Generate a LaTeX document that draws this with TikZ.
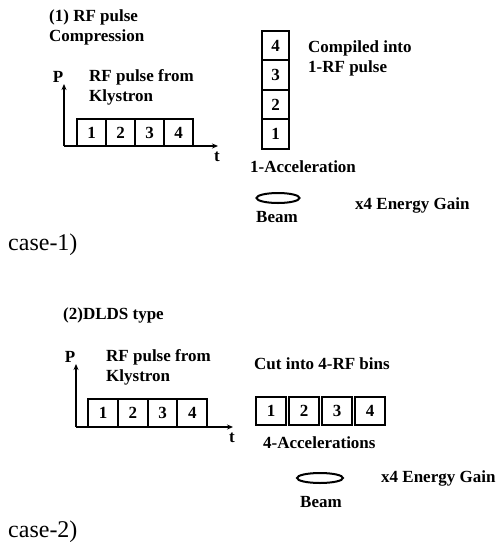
\documentclass[tikz,border=0pt]{standalone}
\usepackage{fontspec}
\setmainfont{Liberation Serif}
\usetikzlibrary{arrows.meta,shapes.geometric}

\tikzset{
  lbl/.style={font=\bfseries\fontsize{17}{20}\selectfont, inner sep=0pt, align=left, anchor=west},
  caselbl/.style={font=\fontsize{24}{26}\selectfont, inner sep=0pt, anchor=west},
  bin/.style={draw, line width=2pt, inner sep=0pt, font=\bfseries\fontsize{17}{20}\selectfont},
  axis/.style={line width=2pt, -{Stealth[length=6pt,width=5pt]}},
  beam/.style={draw, ellipse, line width=2pt, inner sep=0pt, minimum height=10pt}
}

\begin{document}
\begin{tikzpicture}[x=1pt, y=-1pt]
  \useasboundingbox (0,0) rectangle (499,542);

  % ---- case 1: pulse compression ----
  \node[lbl, anchor=north west] (titlea) at (49,9) {(1) RF pulse\\Compression};
  \coordinate (oa) at (64,146);
  \coordinate (pa) at (64,84);
  \coordinate (ta) at (218,146);
  \draw[axis] (oa) -- (pa);
  \draw[axis] (oa) -- (ta);
  \node[lbl, anchor=center] (Pa) at (58,77) {P};
  \node[lbl, anchor=center] (tlbla) at (217,157) {t};
  \node[lbl] (kla) at (89,87) {RF pulse from\\Klystron};
  \foreach \i in {1,...,4}
    \node[bin, minimum width=29, minimum height=27] (ka\i) at ({62.5+29*\i},132.5) {\i};

  % the four parts stacked into one pulse
  \foreach \i in {1,...,4}
    \node[bin, minimum width=27, minimum height=29.5] (ca\i) at (275.5,{163.5-29.5*\i}) {\i};
  \node[lbl] (compa) at (308,58) {Compiled into\\1-RF pulse};
  \node[lbl] (acca) at (250,167) {1-Acceleration};
  \node[beam, minimum width=43] (beama) at (278,198) {};
  \node[lbl, anchor=center] (beamlbla) at (277,217) {Beam};
  \node[lbl] (gaina) at (355,205) {x4 Energy Gain};
  \node[caselbl] (casea) at (8,245) {case-1)};

  % ---- case 2: DLDS ----
  \node[lbl] (titleb) at (63,315) {(2)DLDS type};
  \coordinate (ob) at (76,427);
  \coordinate (pb) at (76,364);
  \coordinate (tb) at (233,427);
  \draw[axis] (ob) -- (pb);
  \draw[axis] (ob) -- (tb);
  \node[lbl, anchor=center] (Pb) at (70,357) {P};
  \node[lbl, anchor=center] (tlblb) at (232,438) {t};
  \node[lbl] (klb) at (106,367) {RF pulse from\\Klystron};
  \foreach \i in {1,...,4}
    \node[bin, minimum width=29.7, minimum height=28] (kb\i) at ({73.5+29.7*\i},413) {\i};

  % the four parts cut into separate bins
  \node[lbl] (cutb) at (254,364) {Cut into 4-RF bins};
  \foreach \i in {1,...,4}
    \node[bin, minimum width=30, minimum height=28] (cb\i) at ({238+33*\i},411) {\i};
  \node[lbl] (accb) at (263,443) {4-Accelerations};
  \node[beam, minimum width=46] (beamb) at (320,478) {};
  \node[lbl, anchor=center] (beamlblb) at (321,502) {Beam};
  \node[lbl] (gainb) at (381,478) {x4 Energy Gain};
  \node[caselbl] (caseb) at (8,532) {case-2)};
\end{tikzpicture}
\end{document}
